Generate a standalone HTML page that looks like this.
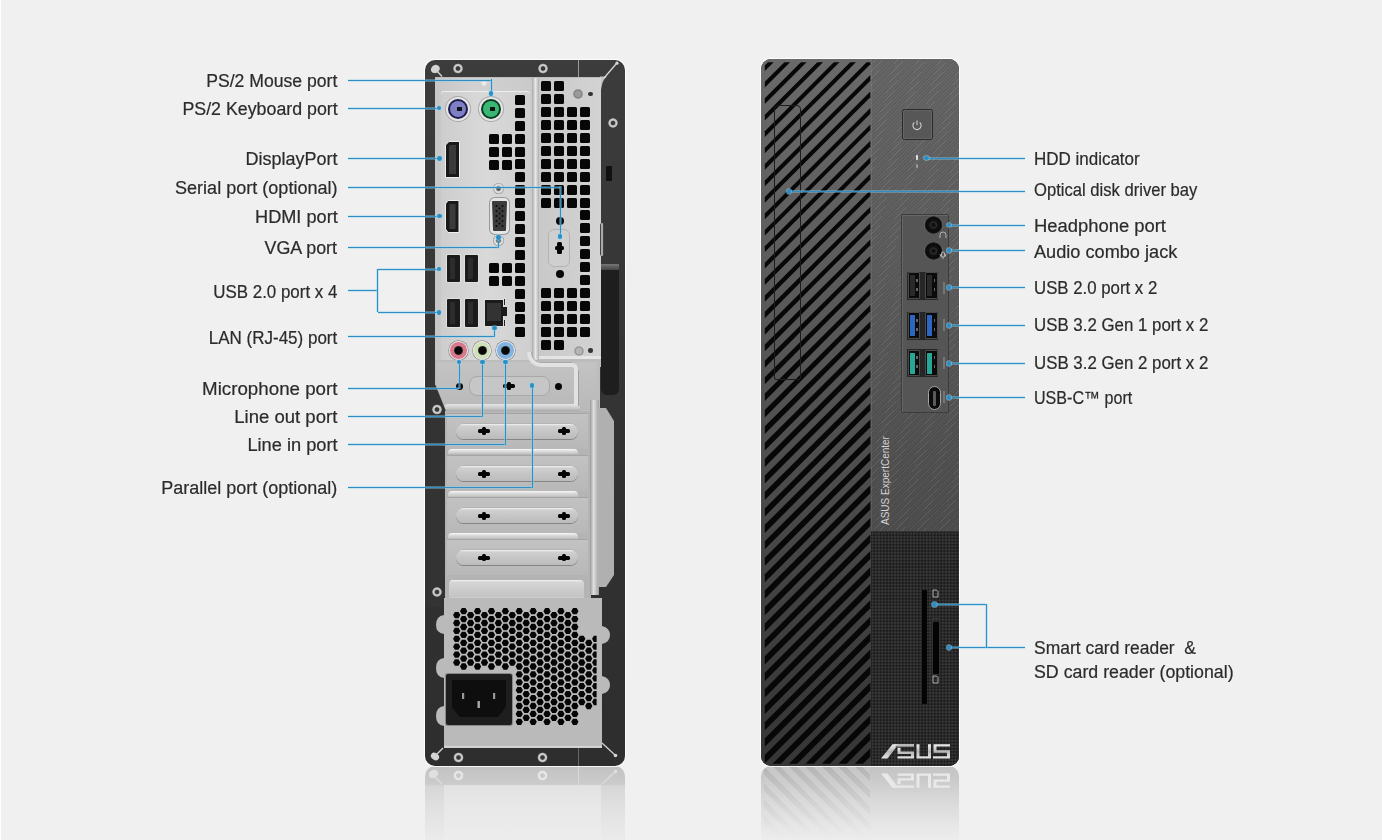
<!DOCTYPE html><html><head><meta charset="utf-8"><style>
*{margin:0;padding:0;box-sizing:border-box}
html,body{width:1382px;height:840px;overflow:hidden;background:#f0f0f0}
body{position:relative;font-family:"Liberation Sans",sans-serif}
div,span,svg{position:absolute}
.lbl{font-size:17.5px;color:#2b2b2b;white-space:pre;line-height:20px;height:20px;-webkit-text-stroke:0.2px #2b2b2b}
.sq{background:#070707;border-radius:1.5px}
.scr{border-radius:50%;background:radial-gradient(circle closest-side,#3a3a3a 0 1.9px,#9c9c9c 2.4px,#d4d4d4 3.2px,#bdbdbd 4.1px,#7a7a7a 4.8px,transparent 5.2px)}
.hl{background:#2f8fc4;height:1.3px;box-shadow:0 -1px 0 rgba(140,205,235,.4),0 1px 0 rgba(140,205,235,.4)}
.vl{background:#2f8fc4;width:1.3px;box-shadow:-1px 0 0 rgba(140,205,235,.4),1px 0 0 rgba(140,205,235,.4)}
.dot{width:4.8px;height:4.8px;border-radius:50%;background:#2b8fc6;box-shadow:0 0 0 0.8px rgba(150,215,240,.6)}
</style></head><body>
<div style="left:0;top:0;width:1px;height:840px;background:#fff"></div>
<div style="left:424.5px;top:766px;width:200px;height:74px;border-radius:10px 10px 0 0;overflow:hidden;background:linear-gradient(#c2c2c2,#cbcbcb 18px,#d6d6d6 20px,#e2e2e2 45px,#ebebeb 74px)"><div style="left:19.5px;top:19px;width:157px;height:55px;background:linear-gradient(#e2e2e2,#e8e8e8 40%,#ededed)"></div><div style="left:153.5px;top:0;width:1px;height:19px;background:#d8d8d8"></div></div>
<div style="left:453.3px;top:770.3px;width:10.4px;height:10.4px;border-radius:50%;background:radial-gradient(circle,#c8c8c8 0 2px,#e6e6e6 2.6px 4.4px,transparent 5.2px)"></div>
<div style="left:537.4px;top:770.3px;width:10.4px;height:10.4px;border-radius:50%;background:radial-gradient(circle,#c8c8c8 0 2px,#e6e6e6 2.6px 4.4px,transparent 5.2px)"></div>
<svg style="left:426px;top:766px" width="200" height="22"><path d="M9 11 L16 18" stroke="#dcdcdc" stroke-width="1.6"/><ellipse cx="7.5" cy="8" rx="5" ry="4" transform="rotate(-35 7.5 8)" fill="#e0e0e0"/><path d="M176 18 L189 6" stroke="#dcdcdc" stroke-width="1.3"/><circle cx="189.5" cy="5.5" r="1.8" fill="#e0e0e0"/></svg>
<div style="left:760.5px;top:766px;width:198.5px;height:74px;border-radius:10px 10px 0 0;overflow:hidden;background:linear-gradient(#c3c3c3,#cbcbcb 15px,#d9d9d9 35px,#e6e6e6 58px,#ededed 74px)"><div style="left:3.8px;top:0;width:105.5px;height:74px;background:repeating-linear-gradient(45deg,rgba(0,0,0,.07) 0 5.5px,rgba(255,255,255,.05) 5.5px 11.6px);-webkit-mask-image:linear-gradient(#000,rgba(0,0,0,.3) 70%,transparent);mask-image:linear-gradient(#000,rgba(0,0,0,.3) 70%,transparent)"></div></div>
<div style="left:424.5px;top:59.5px;width:200px;height:706.5px;background:linear-gradient(#3c3c3c,#353535 40%,#303030 75%,#2e2e2e);border-radius:10px;box-shadow:0 0 0 1px rgba(255,255,255,.85)"></div>
<div style="left:577.5px;top:59.5px;width:1.2px;height:17px;background:#9a9a9a"></div>
<div style="left:430.5px;top:64.5px;width:9px;height:8px;background:#c9c9c9;border-radius:50%;transform:rotate(-30deg)"></div>
<div style="left:435px;top:76.5px;width:166px;height:290px;background:#bdbdbd"></div>
<svg style="left:595px;top:60px" width="30" height="40"><path d="M5 16.5 L12 16.5 Q7 20 6 30 L5 30Z" fill="#c4c4c4"/><path d="M9 18 L21.5 3.5" stroke="#d5d5d5" stroke-width="1.3"/><circle cx="22" cy="3.2" r="1.6" fill="#d5d5d5"/></svg>
<div style="left:435px;top:77.5px;width:97px;height:287px;background:linear-gradient(90deg,#c6c6c6,#d2d2d2 40%,#cacaca);border-radius:3px"></div>
<div style="left:440.5px;top:90.5px;width:89px;height:273px;background:linear-gradient(90deg,#cdcdcd,#d9d9d9 50%,#cfcfcf);border-radius:3px;box-shadow:inset 0 1px 0 #eee"></div>
<div style="left:480px;top:81.2px;width:8px;height:5.5px;border-radius:50%;background:radial-gradient(ellipse at 50% 35%,#f4f4f4,#d8d8d8 60%,#aaa)"></div>
<div style="left:531.5px;top:77.5px;width:7px;height:285px;background:linear-gradient(90deg,#a9a9a9,#e8e8e8 50%,#b0b0b0)"></div>
<div style="left:538.5px;top:77.5px;width:62px;height:281px;background:linear-gradient(90deg,#c9c9c9,#d3d3d3);border-radius:0 0 6px 6px"></div>
<div style="left:538.5px;top:356px;width:62px;height:3px;background:#e4e4e4"></div>
<div class="sq" style="left:515px;top:94.8px;width:10px;height:10px;"></div>
<div class="sq" style="left:515px;top:107.7px;width:10px;height:10px;"></div>
<div class="sq" style="left:515px;top:120.6px;width:10px;height:10px;"></div>
<div class="sq" style="left:515px;top:133.6px;width:10px;height:10px;"></div>
<div class="sq" style="left:515px;top:146.5px;width:10px;height:10px;"></div>
<div class="sq" style="left:515px;top:159.4px;width:10px;height:10px;"></div>
<div class="sq" style="left:515px;top:172.3px;width:10px;height:10px;"></div>
<div class="sq" style="left:515px;top:185.2px;width:10px;height:10px;"></div>
<div class="sq" style="left:515px;top:198.2px;width:10px;height:10px;"></div>
<div class="sq" style="left:515px;top:211.1px;width:10px;height:10px;"></div>
<div class="sq" style="left:515px;top:224.0px;width:10px;height:10px;"></div>
<div class="sq" style="left:515px;top:236.9px;width:10px;height:10px;"></div>
<div class="sq" style="left:515px;top:249.8px;width:10px;height:10px;"></div>
<div class="sq" style="left:515px;top:262.8px;width:10px;height:10px;"></div>
<div class="sq" style="left:515px;top:275.7px;width:10px;height:10px;"></div>
<div class="sq" style="left:515px;top:288.6px;width:10px;height:10px;"></div>
<div class="sq" style="left:515px;top:301.5px;width:10px;height:10px;"></div>
<div class="sq" style="left:515px;top:314.4px;width:10px;height:10px;"></div>
<div class="sq" style="left:515px;top:327.4px;width:10px;height:10px;"></div>
<div class="sq" style="left:488.5px;top:134px;width:10px;height:10px;"></div>
<div class="sq" style="left:502px;top:134px;width:10px;height:10px;"></div>
<div class="sq" style="left:488.5px;top:147px;width:10px;height:10px;"></div>
<div class="sq" style="left:502px;top:147px;width:10px;height:10px;"></div>
<div class="sq" style="left:488.5px;top:160px;width:10px;height:10px;"></div>
<div class="sq" style="left:502px;top:160px;width:10px;height:10px;"></div>
<div class="sq" style="left:488.5px;top:263px;width:10px;height:10px;"></div>
<div class="sq" style="left:502px;top:263px;width:10px;height:10px;"></div>
<div class="sq" style="left:488.5px;top:276px;width:10px;height:10px;"></div>
<div class="sq" style="left:502px;top:276px;width:10px;height:10px;"></div>
<div class="sq" style="left:541px;top:81.2px;width:10px;height:10px;"></div>
<div class="sq" style="left:554.1px;top:81.2px;width:10px;height:10px;"></div>
<div class="sq" style="left:541px;top:94.1px;width:10px;height:10px;"></div>
<div class="sq" style="left:554.1px;top:94.1px;width:10px;height:10px;"></div>
<div class="sq" style="left:541px;top:107.0px;width:10px;height:10px;"></div>
<div class="sq" style="left:554.1px;top:107.0px;width:10px;height:10px;"></div>
<div class="sq" style="left:567.2px;top:107.0px;width:10px;height:10px;"></div>
<div class="sq" style="left:580.3px;top:107.0px;width:10px;height:10px;"></div>
<div class="sq" style="left:541px;top:120.0px;width:10px;height:10px;"></div>
<div class="sq" style="left:554.1px;top:120.0px;width:10px;height:10px;"></div>
<div class="sq" style="left:567.2px;top:120.0px;width:10px;height:10px;"></div>
<div class="sq" style="left:580.3px;top:120.0px;width:10px;height:10px;"></div>
<div class="sq" style="left:541px;top:132.9px;width:10px;height:10px;"></div>
<div class="sq" style="left:554.1px;top:132.9px;width:10px;height:10px;"></div>
<div class="sq" style="left:567.2px;top:132.9px;width:10px;height:10px;"></div>
<div class="sq" style="left:580.3px;top:132.9px;width:10px;height:10px;"></div>
<div class="sq" style="left:541px;top:145.8px;width:10px;height:10px;"></div>
<div class="sq" style="left:554.1px;top:145.8px;width:10px;height:10px;"></div>
<div class="sq" style="left:567.2px;top:145.8px;width:10px;height:10px;"></div>
<div class="sq" style="left:580.3px;top:145.8px;width:10px;height:10px;"></div>
<div class="sq" style="left:541px;top:158.7px;width:10px;height:10px;"></div>
<div class="sq" style="left:554.1px;top:158.7px;width:10px;height:10px;"></div>
<div class="sq" style="left:567.2px;top:158.7px;width:10px;height:10px;"></div>
<div class="sq" style="left:580.3px;top:158.7px;width:10px;height:10px;"></div>
<div class="sq" style="left:541px;top:171.6px;width:10px;height:10px;"></div>
<div class="sq" style="left:554.1px;top:171.6px;width:10px;height:10px;"></div>
<div class="sq" style="left:567.2px;top:171.6px;width:10px;height:10px;"></div>
<div class="sq" style="left:580.3px;top:171.6px;width:10px;height:10px;"></div>
<div class="sq" style="left:541px;top:184.6px;width:10px;height:10px;"></div>
<div class="sq" style="left:554.1px;top:184.6px;width:10px;height:10px;"></div>
<div class="sq" style="left:567.2px;top:184.6px;width:10px;height:10px;"></div>
<div class="sq" style="left:580.3px;top:184.6px;width:10px;height:10px;"></div>
<div class="sq" style="left:541px;top:197.5px;width:10px;height:10px;"></div>
<div class="sq" style="left:554.1px;top:197.5px;width:10px;height:10px;"></div>
<div class="sq" style="left:567.2px;top:197.5px;width:10px;height:10px;"></div>
<div class="sq" style="left:580.3px;top:197.5px;width:10px;height:10px;"></div>
<div class="sq" style="left:580.3px;top:210.4px;width:10px;height:10px;"></div>
<div class="sq" style="left:580.3px;top:223.3px;width:10px;height:10px;"></div>
<div class="sq" style="left:580.3px;top:236.2px;width:10px;height:10px;"></div>
<div class="sq" style="left:580.3px;top:249.2px;width:10px;height:10px;"></div>
<div class="sq" style="left:580.3px;top:262.1px;width:10px;height:10px;"></div>
<div class="sq" style="left:580.3px;top:275.0px;width:10px;height:10px;"></div>
<div class="sq" style="left:541px;top:287.9px;width:10px;height:10px;"></div>
<div class="sq" style="left:554.1px;top:287.9px;width:10px;height:10px;"></div>
<div class="sq" style="left:567.2px;top:287.9px;width:10px;height:10px;"></div>
<div class="sq" style="left:580.3px;top:287.9px;width:10px;height:10px;"></div>
<div class="sq" style="left:541px;top:300.8px;width:10px;height:10px;"></div>
<div class="sq" style="left:554.1px;top:300.8px;width:10px;height:10px;"></div>
<div class="sq" style="left:567.2px;top:300.8px;width:10px;height:10px;"></div>
<div class="sq" style="left:580.3px;top:300.8px;width:10px;height:10px;"></div>
<div class="sq" style="left:541px;top:313.8px;width:10px;height:10px;"></div>
<div class="sq" style="left:554.1px;top:313.8px;width:10px;height:10px;"></div>
<div class="sq" style="left:567.2px;top:313.8px;width:10px;height:10px;"></div>
<div class="sq" style="left:580.3px;top:313.8px;width:10px;height:10px;"></div>
<div class="sq" style="left:541px;top:326.7px;width:10px;height:10px;"></div>
<div class="sq" style="left:554.1px;top:326.7px;width:10px;height:10px;"></div>
<div class="sq" style="left:567.2px;top:326.7px;width:10px;height:10px;"></div>
<div class="sq" style="left:580.3px;top:326.7px;width:10px;height:10px;"></div>
<div class="sq" style="left:541px;top:339.6px;width:10px;height:10px;"></div>
<div class="sq" style="left:554.1px;top:339.6px;width:10px;height:10px;"></div>
<div style="left:572.5px;top:89px;width:10px;height:10px;border-radius:50%;background:radial-gradient(circle,#9a9a9a 0 3px,#7a7a7a 4px,#b0b0b0 5px)"></div>
<div style="left:588.3px;top:91.5px;width:4.5px;height:4.5px;border-radius:50%;background:#333"></div>
<div style="left:573.5px;top:345.5px;width:10px;height:10px;border-radius:50%;background:radial-gradient(circle,#b5b5b5 0 3px,#8a8a8a 4px,#c0c0c0 5px)"></div>
<div style="left:588.3px;top:348px;width:4.5px;height:4.5px;border-radius:50%;background:#333"></div>
<div style="left:555.5px;top:217.4px;width:8px;height:8px;border-radius:50%;background:#080808"></div>
<div style="left:548.3px;top:229.3px;width:21.7px;height:37.3px;border-radius:6px;border:1px solid #b3b3b3;background:#cfcfcf"></div>
<div style="left:555.5px;top:269.8px;width:8px;height:8px;border-radius:50%;background:#080808"></div>
<div style="left:557.3px;top:242.4px;width:4.4px;height:11.8px;background:#050505;border-radius:1.5px"></div>
<div style="left:554.8px;top:246.3px;width:9.4px;height:4px;background:#050505;border-radius:1.5px"></div>
<div style="left:446px;top:96.5px;width:24px;height:24px;border-radius:50%;background:#e6e6e6;box-shadow:0 0 0 1px #aaa"></div>
<div style="left:448px;top:98.5px;width:20px;height:20px;border-radius:50%;background:#1d1d4a"></div>
<div style="left:450px;top:100.5px;width:16px;height:16px;border-radius:50%;background:#7f7fc6"></div>
<div style="left:457px;top:106.5px;width:5px;height:4px;background:#111"></div>
<div style="left:479px;top:96.5px;width:24px;height:24px;border-radius:50%;background:#e6e6e6;box-shadow:0 0 0 1px #aaa"></div>
<div style="left:481px;top:98.5px;width:20px;height:20px;border-radius:50%;background:#0d3b22"></div>
<div style="left:483px;top:100.5px;width:16px;height:16px;border-radius:50%;background:#38b874"></div>
<div style="left:490px;top:106.5px;width:5px;height:4px;background:#111"></div>
<svg style="left:444.5px;top:140.5px" width="15" height="37"><path d="M4 0.5 H14.5 V36.5 H0.5 V4 Z" fill="#1a1a1a" stroke="#eee" stroke-width="1"/><path d="M5 4 H11 V33 H4 V6Z" fill="#3a3a3a"/></svg>
<svg style="left:445px;top:199.5px" width="15" height="33"><path d="M3 0.5 H14 V32.5 H3 L0.5 29 V4 Z" fill="#1a1a1a" stroke="#eee" stroke-width="1"/><path d="M4.5 4 H10.5 V29 H4.5Z" fill="#3b3b3b"/></svg>
<div style="left:489.5px;top:198px;width:19.5px;height:36px;border-radius:5px;background:#e4e4e4;box-shadow:0 0 0 1px #999"></div>
<svg style="left:491px;top:200px" width="17" height="32"><path d="M2 1 H15 Q16 1 16 2 L15 30 Q15 31 14 31 H3 Q2 31 2 30 L1 2 Q1 1 2 1Z" fill="#3c3c3c"/><circle cx="5.5" cy="6" r="1" fill="#0a0a0a"/><circle cx="11.5" cy="6" r="1" fill="#0a0a0a"/><circle cx="5.5" cy="11" r="1" fill="#0a0a0a"/><circle cx="11.5" cy="11" r="1" fill="#0a0a0a"/><circle cx="5.5" cy="16" r="1" fill="#0a0a0a"/><circle cx="11.5" cy="16" r="1" fill="#0a0a0a"/><circle cx="5.5" cy="21" r="1" fill="#0a0a0a"/><circle cx="11.5" cy="21" r="1" fill="#0a0a0a"/><circle cx="5.5" cy="26" r="1" fill="#0a0a0a"/><circle cx="11.5" cy="26" r="1" fill="#0a0a0a"/><circle cx="8.5" cy="8.5" r="1" fill="#0a0a0a"/><circle cx="8.5" cy="13.5" r="1" fill="#0a0a0a"/><circle cx="8.5" cy="18.5" r="1" fill="#0a0a0a"/><circle cx="8.5" cy="23.5" r="1" fill="#0a0a0a"/></svg>
<div style="left:493px;top:183.2px;width:11px;height:11px;border-radius:50%;background:radial-gradient(circle closest-side,#4a4a4a 0 1.8px,#a0a0a0 2.4px,#e8e8e8 3.4px,#d0d0d0 4.6px,#888 5.5px)"></div>
<div style="left:493px;top:234.8px;width:11px;height:11px;border-radius:50%;background:radial-gradient(circle closest-side,#4a4a4a 0 1.8px,#a0a0a0 2.4px,#e8e8e8 3.4px,#d0d0d0 4.6px,#888 5.5px)"></div>
<div style="left:446.5px;top:254.5px;width:13px;height:27.5px;background:#1b1b1b;border-radius:1px;box-shadow:0 0 0 1px #e0e0e0"></div>
<div style="left:449.5px;top:257.5px;width:5px;height:21.5px;background:#2c2c2c"></div>
<div style="left:465px;top:254.5px;width:13px;height:27.5px;background:#1b1b1b;border-radius:1px;box-shadow:0 0 0 1px #e0e0e0"></div>
<div style="left:468px;top:257.5px;width:5px;height:21.5px;background:#2c2c2c"></div>
<div style="left:446.5px;top:299px;width:13px;height:27.5px;background:#1b1b1b;border-radius:1px;box-shadow:0 0 0 1px #e0e0e0"></div>
<div style="left:449.5px;top:302px;width:5px;height:21.5px;background:#2c2c2c"></div>
<div style="left:465px;top:299px;width:13px;height:27.5px;background:#1b1b1b;border-radius:1px;box-shadow:0 0 0 1px #e0e0e0"></div>
<div style="left:468px;top:302px;width:5px;height:21.5px;background:#2c2c2c"></div>
<div style="left:484.5px;top:299.5px;width:18px;height:26.5px;background:#1b1b1b;box-shadow:0 0 0 1px #e0e0e0"></div>
<div style="left:486.5px;top:303px;width:14px;height:18px;background:#333;"></div>
<div style="left:502.5px;top:297.5px;width:3.5px;height:8px;background:#222;border:1px solid #ddd"></div>
<div style="left:502.5px;top:318.5px;width:3.5px;height:8px;background:#222;border:1px solid #ddd"></div>
<div style="left:501.5px;top:307px;width:5px;height:9px;background:#1b1b1b"></div>
<div style="left:449.3px;top:341px;width:18.6px;height:18.6px;border-radius:50%;background:#d7798b;border:1.2px solid #f2f2f2;box-shadow:0 0 0 0.7px #8a8a8a"></div>
<div style="left:454.0px;top:345.7px;width:9.2px;height:9.2px;border-radius:50%;background:radial-gradient(circle closest-side,#080808 0 3.4px,#3a3a3a 4.6px)"></div>
<div style="left:472.8px;top:341px;width:18.6px;height:18.6px;border-radius:50%;background:#cfe0b6;border:1.2px solid #f2f2f2;box-shadow:0 0 0 0.7px #8a8a8a"></div>
<div style="left:477.5px;top:345.7px;width:9.2px;height:9.2px;border-radius:50%;background:radial-gradient(circle closest-side,#080808 0 3.4px,#3a3a3a 4.6px)"></div>
<div style="left:496.0px;top:341px;width:18.6px;height:18.6px;border-radius:50%;background:#80b2e2;border:1.2px solid #f2f2f2;box-shadow:0 0 0 0.7px #8a8a8a"></div>
<div style="left:500.7px;top:345.7px;width:9.2px;height:9.2px;border-radius:50%;background:radial-gradient(circle closest-side,#080808 0 3.4px,#3a3a3a 4.6px)"></div>
<svg style="left:434px;top:360px" width="170" height="60"><path d="M1 0 H166 V60 H14 L10 52 L1 32Z" fill="#bcbcbc"/></svg>
<div style="left:437px;top:362px;width:160px;height:48px;background:linear-gradient(#c3c3c3,#b9b9b9)"></div>
<div style="left:468.5px;top:376px;width:81px;height:19.5px;border-radius:8px;border:1px solid #a8a8a8;background:#c6c6c6"></div>
<div style="left:455.5px;top:382.5px;width:7.5px;height:7.5px;border-radius:50%;background:#080808"></div>
<div style="left:502.6px;top:384.3px;width:12.6px;height:4px;background:#050505;border-radius:1.5px"></div>
<div style="left:506.7px;top:382.4px;width:4.4px;height:7.8px;background:#050505;border-radius:1.5px"></div>
<div style="left:554.5px;top:382.5px;width:7.5px;height:7.5px;border-radius:50%;background:#080808"></div>
<div style="left:444px;top:404px;width:136px;height:7.5px;background:linear-gradient(#e6e6e6,#c4c4c4 60%,#9c9c9c);border-radius:4px"></div>
<svg style="left:526px;top:352px" width="80" height="60"><path d="M3 0 Q4 12 16 13 H46 Q50 13 50 18 V54" fill="none" stroke="#e2e2e2" stroke-width="4"/><path d="M5.5 0 Q6 10 16 10.5 H46" fill="none" stroke="#a8a8a8" stroke-width="1"/><path d="M52.5 18 V54" stroke="#a0a0a0" stroke-width="1"/></svg>
<svg style="left:424.5px;top:385px" width="24" height="222"><path d="M0 0 H10.5 L20.5 25 V222 H0Z" fill="#333"/></svg>
<div style="left:445px;top:411px;width:146px;height:190px;background:#b4b4b4"></div>
<div style="left:446.5px;top:412.8px;width:141px;height:36px;background:linear-gradient(#c2c2c2,#b8b8b8);border-top:1px solid #a5a5a5"></div>
<div style="left:456px;top:423.8px;width:122px;height:15px;border-radius:8px;background:linear-gradient(#f2f2f2,#d0d0d0 2px,#c6c6c6 50%,#bcbcbc);box-shadow:0 1px 0 #858585,0 -0.5px 0 #aaa"></div>
<div style="left:477.7px;top:429.3px;width:12.6px;height:4px;background:#050505;border-radius:1.5px"></div>
<div style="left:481.8px;top:427.40000000000003px;width:4.4px;height:7.8px;background:#050505;border-radius:1.5px"></div>
<div style="left:557.7px;top:429.3px;width:12.6px;height:4px;background:#050505;border-radius:1.5px"></div>
<div style="left:561.8px;top:427.40000000000003px;width:4.4px;height:7.8px;background:#050505;border-radius:1.5px"></div>
<div style="left:447.5px;top:448.8px;width:130px;height:8.5px;border-radius:4px;background:linear-gradient(#fafafa,#dedede 2px,#c8c8c8 55%,#a0a0a0 85%,#8a8a8a)"></div>
<div style="left:446.5px;top:455.3px;width:141px;height:36px;background:linear-gradient(#c2c2c2,#b8b8b8);border-top:1px solid #a5a5a5"></div>
<div style="left:456px;top:466.3px;width:122px;height:15px;border-radius:8px;background:linear-gradient(#f2f2f2,#d0d0d0 2px,#c6c6c6 50%,#bcbcbc);box-shadow:0 1px 0 #858585,0 -0.5px 0 #aaa"></div>
<div style="left:477.7px;top:471.8px;width:12.6px;height:4px;background:#050505;border-radius:1.5px"></div>
<div style="left:481.8px;top:469.90000000000003px;width:4.4px;height:7.8px;background:#050505;border-radius:1.5px"></div>
<div style="left:557.7px;top:471.8px;width:12.6px;height:4px;background:#050505;border-radius:1.5px"></div>
<div style="left:561.8px;top:469.90000000000003px;width:4.4px;height:7.8px;background:#050505;border-radius:1.5px"></div>
<div style="left:447.5px;top:491.3px;width:130px;height:8.5px;border-radius:4px;background:linear-gradient(#fafafa,#dedede 2px,#c8c8c8 55%,#a0a0a0 85%,#8a8a8a)"></div>
<div style="left:446.5px;top:497.29999999999995px;width:141px;height:36px;background:linear-gradient(#c2c2c2,#b8b8b8);border-top:1px solid #a5a5a5"></div>
<div style="left:456px;top:508.29999999999995px;width:122px;height:15px;border-radius:8px;background:linear-gradient(#f2f2f2,#d0d0d0 2px,#c6c6c6 50%,#bcbcbc);box-shadow:0 1px 0 #858585,0 -0.5px 0 #aaa"></div>
<div style="left:477.7px;top:513.8px;width:12.6px;height:4px;background:#050505;border-radius:1.5px"></div>
<div style="left:481.8px;top:511.9px;width:4.4px;height:7.8px;background:#050505;border-radius:1.5px"></div>
<div style="left:557.7px;top:513.8px;width:12.6px;height:4px;background:#050505;border-radius:1.5px"></div>
<div style="left:561.8px;top:511.9px;width:4.4px;height:7.8px;background:#050505;border-radius:1.5px"></div>
<div style="left:447.5px;top:533.3px;width:130px;height:8.5px;border-radius:4px;background:linear-gradient(#fafafa,#dedede 2px,#c8c8c8 55%,#a0a0a0 85%,#8a8a8a)"></div>
<div style="left:446.5px;top:539.0px;width:141px;height:36px;background:linear-gradient(#c2c2c2,#b8b8b8);border-top:1px solid #a5a5a5"></div>
<div style="left:456px;top:550.0px;width:122px;height:15px;border-radius:8px;background:linear-gradient(#f2f2f2,#d0d0d0 2px,#c6c6c6 50%,#bcbcbc);box-shadow:0 1px 0 #858585,0 -0.5px 0 #aaa"></div>
<div style="left:477.7px;top:555.5px;width:12.6px;height:4px;background:#050505;border-radius:1.5px"></div>
<div style="left:481.8px;top:553.6px;width:4.4px;height:7.8px;background:#050505;border-radius:1.5px"></div>
<div style="left:557.7px;top:555.5px;width:12.6px;height:4px;background:#050505;border-radius:1.5px"></div>
<div style="left:561.8px;top:553.6px;width:4.4px;height:7.8px;background:#050505;border-radius:1.5px"></div>
<div style="left:448.8px;top:580px;width:135px;height:20px;border-radius:4px;background:linear-gradient(#f4f4f4,#d6d6d6 2px,#cbcbcb 50%,#c4c4c4 85%,#eeeeee)"></div>
<div style="left:590px;top:400px;width:8.6px;height:195px;background:linear-gradient(90deg,#999,#e0e0e0 40%,#a0a0a0)"></div>
<svg style="left:598px;top:405px" width="17" height="185"><path d="M0 3 L8 3 L16 16 V170 L8 182 H0Z" fill="#b0b0b0"/></svg>
<div style="left:601.4px;top:263.8px;width:17.5px;height:131px;background:#1e1e1e;border-radius:2px 2px 6px 6px"></div>
<div style="left:601.4px;top:263.8px;width:17.5px;height:6px;background:linear-gradient(#777,#444)"></div>
<div style="left:606px;top:165.7px;width:6px;height:15.3px;background:#111;border-radius:1px"></div>
<div style="left:599.5px;top:223px;width:4.8px;height:33px;background:linear-gradient(90deg,#111,#ddd,#111);border-radius:2px"></div>
<svg style="left:434px;top:598px" width="176" height="152"><path d="M10 0 H168 V28 Q176 30 176 37 Q176 44 168 46 V78 Q176 80 176 87 Q176 94 168 96 V150 H10 V128 Q2 127 2 118 Q2 109 10 108 V80 Q2 79 2 70 Q2 61 10 60 V36 Q2 35 2 27 Q2 18 10 17Z" fill="#bababa"/></svg>
<svg style="left:434px;top:598px" width="176" height="152"><defs><clipPath id="hc"><rect x="0" y="0" width="162.6" height="152"/></clipPath></defs><path clip-path="url(#hc)" fill="#050505" d="M19.05 17.10 L20.88 13.95 L24.52 13.95 L26.35 17.10 L24.52 20.25 L20.88 20.25ZM19.05 25.00 L20.88 21.85 L24.52 21.85 L26.35 25.00 L24.52 28.15 L20.88 28.15ZM19.05 32.90 L20.88 29.75 L24.52 29.75 L26.35 32.90 L24.52 36.05 L20.88 36.05ZM19.05 40.80 L20.88 37.65 L24.52 37.65 L26.35 40.80 L24.52 43.95 L20.88 43.95ZM19.05 48.70 L20.88 45.55 L24.52 45.55 L26.35 48.70 L24.52 51.85 L20.88 51.85ZM19.05 56.60 L20.88 53.45 L24.52 53.45 L26.35 56.60 L24.52 59.75 L20.88 59.75ZM19.05 64.50 L20.88 61.35 L24.52 61.35 L26.35 64.50 L24.52 67.65 L20.88 67.65ZM26.00 13.20 L27.82 10.05 L31.47 10.05 L33.30 13.20 L31.47 16.35 L27.82 16.35ZM26.00 21.10 L27.82 17.95 L31.47 17.95 L33.30 21.10 L31.47 24.25 L27.82 24.25ZM26.00 29.00 L27.82 25.85 L31.47 25.85 L33.30 29.00 L31.47 32.15 L27.82 32.15ZM26.00 36.90 L27.82 33.75 L31.47 33.75 L33.30 36.90 L31.47 40.05 L27.82 40.05ZM26.00 44.80 L27.82 41.65 L31.47 41.65 L33.30 44.80 L31.47 47.95 L27.82 47.95ZM26.00 52.70 L27.82 49.55 L31.47 49.55 L33.30 52.70 L31.47 55.85 L27.82 55.85ZM26.00 60.60 L27.82 57.45 L31.47 57.45 L33.30 60.60 L31.47 63.75 L27.82 63.75ZM26.00 68.50 L27.82 65.35 L31.47 65.35 L33.30 68.50 L31.47 71.65 L27.82 71.65ZM32.95 17.10 L34.77 13.95 L38.42 13.95 L40.25 17.10 L38.42 20.25 L34.77 20.25ZM32.95 25.00 L34.77 21.85 L38.42 21.85 L40.25 25.00 L38.42 28.15 L34.77 28.15ZM32.95 32.90 L34.77 29.75 L38.42 29.75 L40.25 32.90 L38.42 36.05 L34.77 36.05ZM32.95 40.80 L34.77 37.65 L38.42 37.65 L40.25 40.80 L38.42 43.95 L34.77 43.95ZM32.95 48.70 L34.77 45.55 L38.42 45.55 L40.25 48.70 L38.42 51.85 L34.77 51.85ZM32.95 56.60 L34.77 53.45 L38.42 53.45 L40.25 56.60 L38.42 59.75 L34.77 59.75ZM32.95 64.50 L34.77 61.35 L38.42 61.35 L40.25 64.50 L38.42 67.65 L34.77 67.65ZM39.90 13.20 L41.73 10.05 L45.38 10.05 L47.20 13.20 L45.38 16.35 L41.73 16.35ZM39.90 21.10 L41.73 17.95 L45.38 17.95 L47.20 21.10 L45.38 24.25 L41.73 24.25ZM39.90 29.00 L41.73 25.85 L45.38 25.85 L47.20 29.00 L45.38 32.15 L41.73 32.15ZM39.90 36.90 L41.73 33.75 L45.38 33.75 L47.20 36.90 L45.38 40.05 L41.73 40.05ZM39.90 44.80 L41.73 41.65 L45.38 41.65 L47.20 44.80 L45.38 47.95 L41.73 47.95ZM39.90 52.70 L41.73 49.55 L45.38 49.55 L47.20 52.70 L45.38 55.85 L41.73 55.85ZM39.90 60.60 L41.73 57.45 L45.38 57.45 L47.20 60.60 L45.38 63.75 L41.73 63.75ZM39.90 68.50 L41.73 65.35 L45.38 65.35 L47.20 68.50 L45.38 71.65 L41.73 71.65ZM46.85 17.10 L48.68 13.95 L52.32 13.95 L54.15 17.10 L52.32 20.25 L48.68 20.25ZM46.85 25.00 L48.68 21.85 L52.32 21.85 L54.15 25.00 L52.32 28.15 L48.68 28.15ZM46.85 32.90 L48.68 29.75 L52.32 29.75 L54.15 32.90 L52.32 36.05 L48.68 36.05ZM46.85 40.80 L48.68 37.65 L52.32 37.65 L54.15 40.80 L52.32 43.95 L48.68 43.95ZM46.85 48.70 L48.68 45.55 L52.32 45.55 L54.15 48.70 L52.32 51.85 L48.68 51.85ZM46.85 56.60 L48.68 53.45 L52.32 53.45 L54.15 56.60 L52.32 59.75 L48.68 59.75ZM46.85 64.50 L48.68 61.35 L52.32 61.35 L54.15 64.50 L52.32 67.65 L48.68 67.65ZM53.80 13.20 L55.62 10.05 L59.27 10.05 L61.10 13.20 L59.27 16.35 L55.62 16.35ZM53.80 21.10 L55.62 17.95 L59.27 17.95 L61.10 21.10 L59.27 24.25 L55.62 24.25ZM53.80 29.00 L55.62 25.85 L59.27 25.85 L61.10 29.00 L59.27 32.15 L55.62 32.15ZM53.80 36.90 L55.62 33.75 L59.27 33.75 L61.10 36.90 L59.27 40.05 L55.62 40.05ZM53.80 44.80 L55.62 41.65 L59.27 41.65 L61.10 44.80 L59.27 47.95 L55.62 47.95ZM53.80 52.70 L55.62 49.55 L59.27 49.55 L61.10 52.70 L59.27 55.85 L55.62 55.85ZM53.80 60.60 L55.62 57.45 L59.27 57.45 L61.10 60.60 L59.27 63.75 L55.62 63.75ZM53.80 68.50 L55.62 65.35 L59.27 65.35 L61.10 68.50 L59.27 71.65 L55.62 71.65ZM60.75 17.10 L62.57 13.95 L66.22 13.95 L68.05 17.10 L66.22 20.25 L62.57 20.25ZM60.75 25.00 L62.57 21.85 L66.22 21.85 L68.05 25.00 L66.22 28.15 L62.57 28.15ZM60.75 32.90 L62.57 29.75 L66.22 29.75 L68.05 32.90 L66.22 36.05 L62.57 36.05ZM60.75 40.80 L62.57 37.65 L66.22 37.65 L68.05 40.80 L66.22 43.95 L62.57 43.95ZM60.75 48.70 L62.57 45.55 L66.22 45.55 L68.05 48.70 L66.22 51.85 L62.57 51.85ZM60.75 56.60 L62.57 53.45 L66.22 53.45 L68.05 56.60 L66.22 59.75 L62.57 59.75ZM60.75 64.50 L62.57 61.35 L66.22 61.35 L68.05 64.50 L66.22 67.65 L62.57 67.65ZM67.70 13.20 L69.52 10.05 L73.17 10.05 L75.00 13.20 L73.17 16.35 L69.52 16.35ZM67.70 21.10 L69.52 17.95 L73.17 17.95 L75.00 21.10 L73.17 24.25 L69.52 24.25ZM67.70 29.00 L69.52 25.85 L73.17 25.85 L75.00 29.00 L73.17 32.15 L69.52 32.15ZM67.70 36.90 L69.52 33.75 L73.17 33.75 L75.00 36.90 L73.17 40.05 L69.52 40.05ZM67.70 44.80 L69.52 41.65 L73.17 41.65 L75.00 44.80 L73.17 47.95 L69.52 47.95ZM67.70 52.70 L69.52 49.55 L73.17 49.55 L75.00 52.70 L73.17 55.85 L69.52 55.85ZM67.70 60.60 L69.52 57.45 L73.17 57.45 L75.00 60.60 L73.17 63.75 L69.52 63.75ZM67.70 68.50 L69.52 65.35 L73.17 65.35 L75.00 68.50 L73.17 71.65 L69.52 71.65ZM74.65 17.10 L76.47 13.95 L80.12 13.95 L81.95 17.10 L80.12 20.25 L76.47 20.25ZM74.65 25.00 L76.47 21.85 L80.12 21.85 L81.95 25.00 L80.12 28.15 L76.47 28.15ZM74.65 32.90 L76.47 29.75 L80.12 29.75 L81.95 32.90 L80.12 36.05 L76.47 36.05ZM74.65 40.80 L76.47 37.65 L80.12 37.65 L81.95 40.80 L80.12 43.95 L76.47 43.95ZM74.65 48.70 L76.47 45.55 L80.12 45.55 L81.95 48.70 L80.12 51.85 L76.47 51.85ZM74.65 56.60 L76.47 53.45 L80.12 53.45 L81.95 56.60 L80.12 59.75 L76.47 59.75ZM74.65 64.50 L76.47 61.35 L80.12 61.35 L81.95 64.50 L80.12 67.65 L76.47 67.65ZM81.60 13.20 L83.42 10.05 L87.08 10.05 L88.90 13.20 L87.08 16.35 L83.42 16.35ZM81.60 21.10 L83.42 17.95 L87.08 17.95 L88.90 21.10 L87.08 24.25 L83.42 24.25ZM81.60 29.00 L83.42 25.85 L87.08 25.85 L88.90 29.00 L87.08 32.15 L83.42 32.15ZM81.60 36.90 L83.42 33.75 L87.08 33.75 L88.90 36.90 L87.08 40.05 L83.42 40.05ZM81.60 44.80 L83.42 41.65 L87.08 41.65 L88.90 44.80 L87.08 47.95 L83.42 47.95ZM81.60 52.70 L83.42 49.55 L87.08 49.55 L88.90 52.70 L87.08 55.85 L83.42 55.85ZM81.60 60.60 L83.42 57.45 L87.08 57.45 L88.90 60.60 L87.08 63.75 L83.42 63.75ZM81.60 68.50 L83.42 65.35 L87.08 65.35 L88.90 68.50 L87.08 71.65 L83.42 71.65ZM81.60 76.40 L83.42 73.25 L87.08 73.25 L88.90 76.40 L87.08 79.55 L83.42 79.55ZM81.60 84.30 L83.42 81.15 L87.08 81.15 L88.90 84.30 L87.08 87.45 L83.42 87.45ZM81.60 92.20 L83.42 89.05 L87.08 89.05 L88.90 92.20 L87.08 95.35 L83.42 95.35ZM81.60 100.10 L83.42 96.95 L87.08 96.95 L88.90 100.10 L87.08 103.25 L83.42 103.25ZM81.60 108.00 L83.42 104.85 L87.08 104.85 L88.90 108.00 L87.08 111.15 L83.42 111.15ZM81.60 115.90 L83.42 112.75 L87.08 112.75 L88.90 115.90 L87.08 119.05 L83.42 119.05ZM81.60 123.80 L83.42 120.65 L87.08 120.65 L88.90 123.80 L87.08 126.95 L83.42 126.95ZM88.55 17.10 L90.38 13.95 L94.03 13.95 L95.85 17.10 L94.03 20.25 L90.38 20.25ZM88.55 25.00 L90.38 21.85 L94.03 21.85 L95.85 25.00 L94.03 28.15 L90.38 28.15ZM88.55 32.90 L90.38 29.75 L94.03 29.75 L95.85 32.90 L94.03 36.05 L90.38 36.05ZM88.55 40.80 L90.38 37.65 L94.03 37.65 L95.85 40.80 L94.03 43.95 L90.38 43.95ZM88.55 48.70 L90.38 45.55 L94.03 45.55 L95.85 48.70 L94.03 51.85 L90.38 51.85ZM88.55 56.60 L90.38 53.45 L94.03 53.45 L95.85 56.60 L94.03 59.75 L90.38 59.75ZM88.55 64.50 L90.38 61.35 L94.03 61.35 L95.85 64.50 L94.03 67.65 L90.38 67.65ZM88.55 72.40 L90.38 69.25 L94.03 69.25 L95.85 72.40 L94.03 75.55 L90.38 75.55ZM88.55 80.30 L90.38 77.15 L94.03 77.15 L95.85 80.30 L94.03 83.45 L90.38 83.45ZM88.55 88.20 L90.38 85.05 L94.03 85.05 L95.85 88.20 L94.03 91.35 L90.38 91.35ZM88.55 96.10 L90.38 92.95 L94.03 92.95 L95.85 96.10 L94.03 99.25 L90.38 99.25ZM88.55 104.00 L90.38 100.85 L94.03 100.85 L95.85 104.00 L94.03 107.15 L90.38 107.15ZM88.55 111.90 L90.38 108.75 L94.03 108.75 L95.85 111.90 L94.03 115.05 L90.38 115.05ZM88.55 119.80 L90.38 116.65 L94.03 116.65 L95.85 119.80 L94.03 122.95 L90.38 122.95ZM95.50 13.20 L97.32 10.05 L100.98 10.05 L102.80 13.20 L100.98 16.35 L97.32 16.35ZM95.50 21.10 L97.32 17.95 L100.98 17.95 L102.80 21.10 L100.98 24.25 L97.32 24.25ZM95.50 29.00 L97.32 25.85 L100.98 25.85 L102.80 29.00 L100.98 32.15 L97.32 32.15ZM95.50 36.90 L97.32 33.75 L100.98 33.75 L102.80 36.90 L100.98 40.05 L97.32 40.05ZM95.50 44.80 L97.32 41.65 L100.98 41.65 L102.80 44.80 L100.98 47.95 L97.32 47.95ZM95.50 52.70 L97.32 49.55 L100.98 49.55 L102.80 52.70 L100.98 55.85 L97.32 55.85ZM95.50 60.60 L97.32 57.45 L100.98 57.45 L102.80 60.60 L100.98 63.75 L97.32 63.75ZM95.50 68.50 L97.32 65.35 L100.98 65.35 L102.80 68.50 L100.98 71.65 L97.32 71.65ZM95.50 76.40 L97.32 73.25 L100.98 73.25 L102.80 76.40 L100.98 79.55 L97.32 79.55ZM95.50 84.30 L97.32 81.15 L100.98 81.15 L102.80 84.30 L100.98 87.45 L97.32 87.45ZM95.50 92.20 L97.32 89.05 L100.98 89.05 L102.80 92.20 L100.98 95.35 L97.32 95.35ZM95.50 100.10 L97.32 96.95 L100.98 96.95 L102.80 100.10 L100.98 103.25 L97.32 103.25ZM95.50 108.00 L97.32 104.85 L100.98 104.85 L102.80 108.00 L100.98 111.15 L97.32 111.15ZM95.50 115.90 L97.32 112.75 L100.98 112.75 L102.80 115.90 L100.98 119.05 L97.32 119.05ZM95.50 123.80 L97.32 120.65 L100.98 120.65 L102.80 123.80 L100.98 126.95 L97.32 126.95ZM102.45 17.10 L104.27 13.95 L107.93 13.95 L109.75 17.10 L107.93 20.25 L104.27 20.25ZM102.45 25.00 L104.27 21.85 L107.93 21.85 L109.75 25.00 L107.93 28.15 L104.27 28.15ZM102.45 32.90 L104.27 29.75 L107.93 29.75 L109.75 32.90 L107.93 36.05 L104.27 36.05ZM102.45 40.80 L104.27 37.65 L107.93 37.65 L109.75 40.80 L107.93 43.95 L104.27 43.95ZM102.45 48.70 L104.27 45.55 L107.93 45.55 L109.75 48.70 L107.93 51.85 L104.27 51.85ZM102.45 56.60 L104.27 53.45 L107.93 53.45 L109.75 56.60 L107.93 59.75 L104.27 59.75ZM102.45 64.50 L104.27 61.35 L107.93 61.35 L109.75 64.50 L107.93 67.65 L104.27 67.65ZM102.45 72.40 L104.27 69.25 L107.93 69.25 L109.75 72.40 L107.93 75.55 L104.27 75.55ZM102.45 80.30 L104.27 77.15 L107.93 77.15 L109.75 80.30 L107.93 83.45 L104.27 83.45ZM102.45 88.20 L104.27 85.05 L107.93 85.05 L109.75 88.20 L107.93 91.35 L104.27 91.35ZM102.45 96.10 L104.27 92.95 L107.93 92.95 L109.75 96.10 L107.93 99.25 L104.27 99.25ZM102.45 104.00 L104.27 100.85 L107.93 100.85 L109.75 104.00 L107.93 107.15 L104.27 107.15ZM102.45 111.90 L104.27 108.75 L107.93 108.75 L109.75 111.90 L107.93 115.05 L104.27 115.05ZM102.45 119.80 L104.27 116.65 L107.93 116.65 L109.75 119.80 L107.93 122.95 L104.27 122.95ZM109.40 13.20 L111.22 10.05 L114.88 10.05 L116.70 13.20 L114.88 16.35 L111.22 16.35ZM109.40 21.10 L111.22 17.95 L114.88 17.95 L116.70 21.10 L114.88 24.25 L111.22 24.25ZM109.40 29.00 L111.22 25.85 L114.88 25.85 L116.70 29.00 L114.88 32.15 L111.22 32.15ZM109.40 36.90 L111.22 33.75 L114.88 33.75 L116.70 36.90 L114.88 40.05 L111.22 40.05ZM109.40 44.80 L111.22 41.65 L114.88 41.65 L116.70 44.80 L114.88 47.95 L111.22 47.95ZM109.40 52.70 L111.22 49.55 L114.88 49.55 L116.70 52.70 L114.88 55.85 L111.22 55.85ZM109.40 60.60 L111.22 57.45 L114.88 57.45 L116.70 60.60 L114.88 63.75 L111.22 63.75ZM109.40 68.50 L111.22 65.35 L114.88 65.35 L116.70 68.50 L114.88 71.65 L111.22 71.65ZM109.40 76.40 L111.22 73.25 L114.88 73.25 L116.70 76.40 L114.88 79.55 L111.22 79.55ZM109.40 84.30 L111.22 81.15 L114.88 81.15 L116.70 84.30 L114.88 87.45 L111.22 87.45ZM109.40 92.20 L111.22 89.05 L114.88 89.05 L116.70 92.20 L114.88 95.35 L111.22 95.35ZM109.40 100.10 L111.22 96.95 L114.88 96.95 L116.70 100.10 L114.88 103.25 L111.22 103.25ZM109.40 108.00 L111.22 104.85 L114.88 104.85 L116.70 108.00 L114.88 111.15 L111.22 111.15ZM109.40 115.90 L111.22 112.75 L114.88 112.75 L116.70 115.90 L114.88 119.05 L111.22 119.05ZM109.40 123.80 L111.22 120.65 L114.88 120.65 L116.70 123.80 L114.88 126.95 L111.22 126.95ZM116.35 17.10 L118.17 13.95 L121.83 13.95 L123.65 17.10 L121.83 20.25 L118.17 20.25ZM116.35 25.00 L118.17 21.85 L121.83 21.85 L123.65 25.00 L121.83 28.15 L118.17 28.15ZM116.35 32.90 L118.17 29.75 L121.83 29.75 L123.65 32.90 L121.83 36.05 L118.17 36.05ZM116.35 40.80 L118.17 37.65 L121.83 37.65 L123.65 40.80 L121.83 43.95 L118.17 43.95ZM116.35 48.70 L118.17 45.55 L121.83 45.55 L123.65 48.70 L121.83 51.85 L118.17 51.85ZM116.35 56.60 L118.17 53.45 L121.83 53.45 L123.65 56.60 L121.83 59.75 L118.17 59.75ZM116.35 64.50 L118.17 61.35 L121.83 61.35 L123.65 64.50 L121.83 67.65 L118.17 67.65ZM116.35 72.40 L118.17 69.25 L121.83 69.25 L123.65 72.40 L121.83 75.55 L118.17 75.55ZM116.35 80.30 L118.17 77.15 L121.83 77.15 L123.65 80.30 L121.83 83.45 L118.17 83.45ZM116.35 88.20 L118.17 85.05 L121.83 85.05 L123.65 88.20 L121.83 91.35 L118.17 91.35ZM116.35 96.10 L118.17 92.95 L121.83 92.95 L123.65 96.10 L121.83 99.25 L118.17 99.25ZM116.35 104.00 L118.17 100.85 L121.83 100.85 L123.65 104.00 L121.83 107.15 L118.17 107.15ZM116.35 111.90 L118.17 108.75 L121.83 108.75 L123.65 111.90 L121.83 115.05 L118.17 115.05ZM116.35 119.80 L118.17 116.65 L121.83 116.65 L123.65 119.80 L121.83 122.95 L118.17 122.95ZM123.30 13.20 L125.12 10.05 L128.78 10.05 L130.60 13.20 L128.78 16.35 L125.12 16.35ZM123.30 21.10 L125.12 17.95 L128.78 17.95 L130.60 21.10 L128.78 24.25 L125.12 24.25ZM123.30 29.00 L125.12 25.85 L128.78 25.85 L130.60 29.00 L128.78 32.15 L125.12 32.15ZM123.30 36.90 L125.12 33.75 L128.78 33.75 L130.60 36.90 L128.78 40.05 L125.12 40.05ZM123.30 44.80 L125.12 41.65 L128.78 41.65 L130.60 44.80 L128.78 47.95 L125.12 47.95ZM123.30 52.70 L125.12 49.55 L128.78 49.55 L130.60 52.70 L128.78 55.85 L125.12 55.85ZM123.30 60.60 L125.12 57.45 L128.78 57.45 L130.60 60.60 L128.78 63.75 L125.12 63.75ZM123.30 68.50 L125.12 65.35 L128.78 65.35 L130.60 68.50 L128.78 71.65 L125.12 71.65ZM123.30 76.40 L125.12 73.25 L128.78 73.25 L130.60 76.40 L128.78 79.55 L125.12 79.55ZM123.30 84.30 L125.12 81.15 L128.78 81.15 L130.60 84.30 L128.78 87.45 L125.12 87.45ZM123.30 92.20 L125.12 89.05 L128.78 89.05 L130.60 92.20 L128.78 95.35 L125.12 95.35ZM123.30 100.10 L125.12 96.95 L128.78 96.95 L130.60 100.10 L128.78 103.25 L125.12 103.25ZM123.30 108.00 L125.12 104.85 L128.78 104.85 L130.60 108.00 L128.78 111.15 L125.12 111.15ZM123.30 115.90 L125.12 112.75 L128.78 112.75 L130.60 115.90 L128.78 119.05 L125.12 119.05ZM123.30 123.80 L125.12 120.65 L128.78 120.65 L130.60 123.80 L128.78 126.95 L125.12 126.95ZM130.25 17.10 L132.07 13.95 L135.73 13.95 L137.55 17.10 L135.73 20.25 L132.07 20.25ZM130.25 25.00 L132.07 21.85 L135.73 21.85 L137.55 25.00 L135.73 28.15 L132.07 28.15ZM130.25 32.90 L132.07 29.75 L135.73 29.75 L137.55 32.90 L135.73 36.05 L132.07 36.05ZM130.25 40.80 L132.07 37.65 L135.73 37.65 L137.55 40.80 L135.73 43.95 L132.07 43.95ZM130.25 48.70 L132.07 45.55 L135.73 45.55 L137.55 48.70 L135.73 51.85 L132.07 51.85ZM130.25 56.60 L132.07 53.45 L135.73 53.45 L137.55 56.60 L135.73 59.75 L132.07 59.75ZM130.25 64.50 L132.07 61.35 L135.73 61.35 L137.55 64.50 L135.73 67.65 L132.07 67.65ZM130.25 72.40 L132.07 69.25 L135.73 69.25 L137.55 72.40 L135.73 75.55 L132.07 75.55ZM130.25 80.30 L132.07 77.15 L135.73 77.15 L137.55 80.30 L135.73 83.45 L132.07 83.45ZM130.25 88.20 L132.07 85.05 L135.73 85.05 L137.55 88.20 L135.73 91.35 L132.07 91.35ZM130.25 96.10 L132.07 92.95 L135.73 92.95 L137.55 96.10 L135.73 99.25 L132.07 99.25ZM130.25 104.00 L132.07 100.85 L135.73 100.85 L137.55 104.00 L135.73 107.15 L132.07 107.15ZM130.25 111.90 L132.07 108.75 L135.73 108.75 L137.55 111.90 L135.73 115.05 L132.07 115.05ZM130.25 119.80 L132.07 116.65 L135.73 116.65 L137.55 119.80 L135.73 122.95 L132.07 122.95ZM137.20 13.20 L139.02 10.05 L142.68 10.05 L144.50 13.20 L142.68 16.35 L139.02 16.35ZM137.20 21.10 L139.02 17.95 L142.68 17.95 L144.50 21.10 L142.68 24.25 L139.02 24.25ZM137.20 29.00 L139.02 25.85 L142.68 25.85 L144.50 29.00 L142.68 32.15 L139.02 32.15ZM137.20 36.90 L139.02 33.75 L142.68 33.75 L144.50 36.90 L142.68 40.05 L139.02 40.05ZM137.20 44.80 L139.02 41.65 L142.68 41.65 L144.50 44.80 L142.68 47.95 L139.02 47.95ZM137.20 52.70 L139.02 49.55 L142.68 49.55 L144.50 52.70 L142.68 55.85 L139.02 55.85ZM137.20 60.60 L139.02 57.45 L142.68 57.45 L144.50 60.60 L142.68 63.75 L139.02 63.75ZM137.20 68.50 L139.02 65.35 L142.68 65.35 L144.50 68.50 L142.68 71.65 L139.02 71.65ZM137.20 76.40 L139.02 73.25 L142.68 73.25 L144.50 76.40 L142.68 79.55 L139.02 79.55ZM137.20 84.30 L139.02 81.15 L142.68 81.15 L144.50 84.30 L142.68 87.45 L139.02 87.45ZM137.20 92.20 L139.02 89.05 L142.68 89.05 L144.50 92.20 L142.68 95.35 L139.02 95.35ZM137.20 100.10 L139.02 96.95 L142.68 96.95 L144.50 100.10 L142.68 103.25 L139.02 103.25ZM137.20 108.00 L139.02 104.85 L142.68 104.85 L144.50 108.00 L142.68 111.15 L139.02 111.15ZM137.20 115.90 L139.02 112.75 L142.68 112.75 L144.50 115.90 L142.68 119.05 L139.02 119.05ZM137.20 123.80 L139.02 120.65 L142.68 120.65 L144.50 123.80 L142.68 126.95 L139.02 126.95ZM144.15 40.80 L145.97 37.65 L149.62 37.65 L151.45 40.80 L149.62 43.95 L145.97 43.95ZM144.15 48.70 L145.97 45.55 L149.62 45.55 L151.45 48.70 L149.62 51.85 L145.97 51.85ZM144.15 56.60 L145.97 53.45 L149.62 53.45 L151.45 56.60 L149.62 59.75 L145.97 59.75ZM144.15 64.50 L145.97 61.35 L149.62 61.35 L151.45 64.50 L149.62 67.65 L145.97 67.65ZM144.15 72.40 L145.97 69.25 L149.62 69.25 L151.45 72.40 L149.62 75.55 L145.97 75.55ZM144.15 80.30 L145.97 77.15 L149.62 77.15 L151.45 80.30 L149.62 83.45 L145.97 83.45ZM144.15 88.20 L145.97 85.05 L149.62 85.05 L151.45 88.20 L149.62 91.35 L145.97 91.35ZM144.15 96.10 L145.97 92.95 L149.62 92.95 L151.45 96.10 L149.62 99.25 L145.97 99.25ZM144.15 104.00 L145.97 100.85 L149.62 100.85 L151.45 104.00 L149.62 107.15 L145.97 107.15ZM151.10 44.80 L152.92 41.65 L156.58 41.65 L158.40 44.80 L156.58 47.95 L152.92 47.95ZM151.10 52.70 L152.92 49.55 L156.58 49.55 L158.40 52.70 L156.58 55.85 L152.92 55.85ZM151.10 60.60 L152.92 57.45 L156.58 57.45 L158.40 60.60 L156.58 63.75 L152.92 63.75ZM151.10 68.50 L152.92 65.35 L156.58 65.35 L158.40 68.50 L156.58 71.65 L152.92 71.65ZM151.10 76.40 L152.92 73.25 L156.58 73.25 L158.40 76.40 L156.58 79.55 L152.92 79.55ZM151.10 84.30 L152.92 81.15 L156.58 81.15 L158.40 84.30 L156.58 87.45 L152.92 87.45ZM151.10 92.20 L152.92 89.05 L156.58 89.05 L158.40 92.20 L156.58 95.35 L152.92 95.35ZM151.10 100.10 L152.92 96.95 L156.58 96.95 L158.40 100.10 L156.58 103.25 L152.92 103.25ZM151.10 108.00 L152.92 104.85 L156.58 104.85 L158.40 108.00 L156.58 111.15 L152.92 111.15ZM158.05 40.80 L159.88 37.65 L163.53 37.65 L165.35 40.80 L163.53 43.95 L159.88 43.95ZM158.05 48.70 L159.88 45.55 L163.53 45.55 L165.35 48.70 L163.53 51.85 L159.88 51.85ZM158.05 56.60 L159.88 53.45 L163.53 53.45 L165.35 56.60 L163.53 59.75 L159.88 59.75ZM158.05 64.50 L159.88 61.35 L163.53 61.35 L165.35 64.50 L163.53 67.65 L159.88 67.65ZM158.05 72.40 L159.88 69.25 L163.53 69.25 L165.35 72.40 L163.53 75.55 L159.88 75.55ZM158.05 80.30 L159.88 77.15 L163.53 77.15 L165.35 80.30 L163.53 83.45 L159.88 83.45ZM158.05 88.20 L159.88 85.05 L163.53 85.05 L165.35 88.20 L163.53 91.35 L159.88 91.35ZM158.05 96.10 L159.88 92.95 L163.53 92.95 L165.35 96.10 L163.53 99.25 L159.88 99.25ZM158.05 104.00 L159.88 100.85 L163.53 100.85 L165.35 104.00 L163.53 107.15 L159.88 107.15Z"/></svg>
<div style="left:446px;top:673.7px;width:65.6px;height:51px;background:#1e1e1e;border-radius:2px;box-shadow:0 0 0 1px #888"></div>
<svg style="left:452px;top:680px" width="54" height="37"><path d="M0 0 H54 V27 L46 37 H8 L0 27Z" fill="#0e0e0e"/><rect x="10" y="13" width="2.2" height="6" fill="#999"/><rect x="41" y="13" width="2.2" height="6" fill="#999"/><rect x="25.5" y="21" width="2.4" height="7" fill="#aaa"/></svg>
<div style="left:578px;top:748px;width:1.2px;height:18px;background:#666"></div>
<div style="left:444px;top:746px;width:158px;height:2.3px;background:linear-gradient(#dcdcdc,#c8c8c8)"></div>
<div class="scr" style="left:452.8px;top:63.2px;width:10.4px;height:10.4px;"></div>
<div class="scr" style="left:537.5999999999999px;top:63.2px;width:10.4px;height:10.4px;"></div>
<div class="scr" style="left:608.0999999999999px;top:117.8px;width:10.4px;height:10.4px;"></div>
<div class="scr" style="left:431.8px;top:404.3px;width:10.4px;height:10.4px;"></div>
<div class="scr" style="left:431.8px;top:586.8px;width:10.4px;height:10.4px;"></div>
<div class="scr" style="left:453.3px;top:752.3px;width:10.4px;height:10.4px;"></div>
<div class="scr" style="left:537.4px;top:752.3px;width:10.4px;height:10.4px;"></div>
<svg style="left:426px;top:61px" width="20" height="20"><path d="M10 9 L16 15.5" stroke="#cfcfcf" stroke-width="1.5"/><ellipse cx="9" cy="8" rx="4.2" ry="3.2" transform="rotate(-35 9 8)" fill="#d4d4d4"/></svg>
<svg style="left:426px;top:744px" width="20" height="20"><path d="M10 11 L17 4" stroke="#cfcfcf" stroke-width="1.5"/><ellipse cx="9" cy="12.5" rx="4.4" ry="3.4" transform="rotate(35 9 12.5)" fill="#d4d4d4"/></svg>
<svg style="left:600px;top:740px" width="24" height="24"><path d="M2 3 L15 15" stroke="#cfcfcf" stroke-width="1.3"/><circle cx="15.5" cy="15.5" r="1.8" fill="#d4d4d4"/></svg>
<div style="left:760.5px;top:58.8px;width:198.5px;height:707.2px;border-radius:10px;box-shadow:0 0 0 1px rgba(255,255,255,.85)"></div>
<div style="left:760.5px;top:58.8px;width:198.5px;height:707.2px;border-radius:10px;overflow:hidden;background:#262626">
<div style="left:0;top:0;width:111px;height:708px;background:linear-gradient(#6a6a6a,#676767 6%,#5e5e5e 25%,#4e4e4e 57%,#3c3c3c 86%,#363636)"></div>
<svg style="left:0;top:0" width="111" height="708"><defs><clipPath id="sc"><rect x="0" y="3.20" width="111" height="701.50"/></clipPath></defs><g clip-path="url(#sc)" fill="#070707"><polygon points="3.80,6.40 109.30,-99.10 109.30,-93.40 3.80,12.10"/><polygon points="3.80,22.85 109.30,-82.65 109.30,-76.95 3.80,28.55"/><polygon points="3.80,39.30 109.30,-66.20 109.30,-60.50 3.80,45.00"/><polygon points="3.80,55.75 109.30,-49.75 109.30,-44.05 3.80,61.45"/><polygon points="3.80,72.20 109.30,-33.30 109.30,-27.60 3.80,77.90"/><polygon points="3.80,88.65 109.30,-16.85 109.30,-11.15 3.80,94.35"/><polygon points="3.80,105.10 109.30,-0.40 109.30,5.30 3.80,110.80"/><polygon points="3.80,121.55 109.30,16.05 109.30,21.75 3.80,127.25"/><polygon points="3.80,138.00 109.30,32.50 109.30,38.20 3.80,143.70"/><polygon points="3.80,154.45 109.30,48.95 109.30,54.65 3.80,160.15"/><polygon points="3.80,170.90 109.30,65.40 109.30,71.10 3.80,176.60"/><polygon points="3.80,187.35 109.30,81.85 109.30,87.55 3.80,193.05"/><polygon points="3.80,203.72 109.30,98.30 109.30,104.00 3.80,209.58"/><polygon points="3.80,220.08 109.30,114.75 109.30,120.45 3.80,226.12"/><polygon points="3.80,236.44 109.30,131.20 109.30,136.90 3.80,242.66"/><polygon points="3.80,252.80 109.30,147.65 109.30,153.35 3.80,259.20"/><polygon points="3.80,269.16 109.30,164.10 109.30,169.80 3.80,275.74"/><polygon points="3.80,285.51 109.30,180.55 109.30,186.25 3.80,292.29"/><polygon points="3.80,301.87 109.30,196.95 109.30,202.75 3.80,308.83"/><polygon points="3.80,318.23 109.30,213.31 109.30,219.29 3.80,325.37"/><polygon points="3.80,334.59 109.30,229.67 109.30,235.83 3.80,341.91"/><polygon points="3.80,350.95 109.30,246.03 109.30,252.37 3.80,358.45"/><polygon points="3.80,367.31 109.30,262.39 109.30,268.91 3.80,374.99"/><polygon points="3.80,383.67 109.30,278.75 109.30,285.45 3.80,391.53"/><polygon points="3.80,400.05 109.30,295.11 109.30,301.99 3.80,408.05"/><polygon points="3.80,416.49 109.30,311.47 109.30,318.53 3.80,424.51"/><polygon points="3.80,432.93 109.30,327.83 109.30,335.07 3.80,440.97"/><polygon points="3.80,449.38 109.30,344.19 109.30,351.61 3.80,457.42"/><polygon points="3.80,465.82 109.30,360.55 109.30,368.15 3.80,473.88"/><polygon points="3.80,482.26 109.30,376.91 109.30,384.69 3.80,490.34"/><polygon points="3.80,498.70 109.30,393.27 109.30,401.23 3.80,506.80"/><polygon points="3.80,515.14 109.30,409.69 109.30,417.71 3.80,523.26"/><polygon points="3.80,531.59 109.30,426.14 109.30,434.16 3.80,539.71"/><polygon points="3.80,548.03 109.30,442.58 109.30,450.62 3.80,556.17"/><polygon points="3.80,564.47 109.30,459.02 109.30,467.08 3.80,572.63"/><polygon points="3.80,580.91 109.30,475.46 109.30,483.54 3.80,589.09"/><polygon points="3.80,597.35 109.30,491.90 109.30,500.00 3.80,605.55"/><polygon points="3.80,613.80 109.30,508.35 109.30,516.45 3.80,622.00"/><polygon points="3.80,630.25 109.30,524.79 109.30,532.91 3.80,638.45"/><polygon points="3.80,646.70 109.30,541.23 109.30,549.37 3.80,654.90"/><polygon points="3.80,663.15 109.30,557.67 109.30,565.83 3.80,671.35"/><polygon points="3.80,679.60 109.30,574.12 109.30,582.28 3.80,687.80"/><polygon points="3.80,696.05 109.30,590.56 109.30,598.74 3.80,704.25"/><polygon points="3.80,712.50 109.30,607.00 109.30,615.20 3.80,720.70"/><polygon points="3.80,728.95 109.30,623.45 109.30,631.65 3.80,737.15"/><polygon points="3.80,745.40 109.30,639.90 109.30,648.10 3.80,753.60"/><polygon points="3.80,761.85 109.30,656.35 109.30,664.55 3.80,770.05"/><polygon points="3.80,778.30 109.30,672.80 109.30,681.00 3.80,786.50"/><polygon points="3.80,794.75 109.30,689.25 109.30,697.45 3.80,802.95"/></g></svg>
<div style="left:110.5px;top:0;width:89px;height:473.2px;background:linear-gradient(#666,#606060 30%,#585858 60%,#515151 85%,#4e4e4e)"></div>
<div style="left:110.5px;top:0;width:89px;height:473.2px;background:repeating-linear-gradient(-44deg,rgba(255,255,255,.06) 0 1px,rgba(0,0,0,.07) 1px 2.2px,rgba(255,255,255,0) 2.2px 3.7px,rgba(0,0,0,.05) 3.7px 5.1px)"></div>
<div style="left:110.5px;top:0;width:1px;height:708px;background:rgba(255,255,255,.08)"></div>
<div style="left:110.5px;top:472.2px;width:89px;height:1.5px;background:#333"></div>
<div style="left:110.5px;top:473.7px;width:89px;height:235px;background-color:#242424;background-image:radial-gradient(circle,#383838 0 0.9px,transparent 1.5px),radial-gradient(circle,#1a1a1a 0 0.9px,transparent 1.5px);background-size:3.2px 3.2px,3.2px 3.2px;background-position:0 0,1.6px 1.6px"></div>
</div>
<div style="left:774.3px;top:105px;width:26.6px;height:275px;border:1.3px solid #1c1c1c;border-radius:4px 4px 2px 2px"></div>
<div style="left:901.6px;top:109.4px;width:31.1px;height:30.8px;border:1.4px solid #2a2a2a;border-radius:2.5px;background:#575757;box-shadow:inset 0 0 0 0.8px #6a6a6a"></div>
<svg style="left:911px;top:119px" width="12" height="12"><path d="M3.3 3.4 A4.1 4.1 0 1 0 8.7 3.4" fill="none" stroke="#d0d0d0" stroke-width="1.1"/><path d="M6 1.6 V6" stroke="#d0d0d0" stroke-width="1.1"/></svg>
<div style="left:915.6px;top:155.2px;width:2.8px;height:5px;background:#e0e0e0;border-radius:0.8px"></div>
<div style="left:915.6px;top:164px;width:2.8px;height:4px;border:0.8px solid #9a9a9a;border-radius:0.8px"></div>
<div style="left:900.8px;top:214.2px;width:47.8px;height:199px;background:#555;border:1px solid #3c3c3c;border-radius:1.5px;box-shadow:inset 1px 1px 0 #666"></div>
<div style="left:924.3000000000001px;top:215.7px;width:18.8px;height:18.8px;border-radius:50%;background:radial-gradient(circle closest-side,#111 0 1.6px,#2e2e2e 3px,#121212 4.2px,#0a0a0a 7.4px,#262626 8.4px,#777 9.4px)"></div>
<div style="left:924.3000000000001px;top:241.5px;width:18.8px;height:18.8px;border-radius:50%;background:radial-gradient(circle closest-side,#111 0 1.6px,#2e2e2e 3px,#121212 4.2px,#0a0a0a 7.4px,#262626 8.4px,#777 9.4px)"></div>
<svg style="left:938px;top:229px" width="10" height="32" stroke="#bbb" fill="none" stroke-width="0.9"><path d="M2 9 V6 A3 3 0 0 1 8 6 V9"/><path d="M3.5 27 V24 A1.6 1.6 0 0 1 6.5 24 V27 M2 25 A3 3 0 0 0 8 25 M5 28 V30"/></svg>
<div style="left:906px;top:270.7px;width:32.5px;height:30.3px;background:#262626;border-radius:2px;border:1px solid #555"></div>
<div style="left:907.6px;top:272.4px;width:12.8px;height:26.8px;background:#0b0b0b;border:1px solid #4a4a4a;border-radius:1px"></div>
<div style="left:910.0px;top:275.3px;width:5.2px;height:21px;background:#2a2a2a"></div>
<div style="left:916.2px;top:278.7px;width:1.4px;height:3px;background:#666"></div>
<div style="left:916.2px;top:287.7px;width:1.4px;height:3px;background:#666"></div>
<div style="left:924.9px;top:272.4px;width:12.8px;height:26.8px;background:#0b0b0b;border:1px solid #4a4a4a;border-radius:1px"></div>
<div style="left:927.3px;top:275.3px;width:5.2px;height:21px;background:#2a2a2a"></div>
<div style="left:933.5px;top:278.7px;width:1.4px;height:3px;background:#666"></div>
<div style="left:933.5px;top:287.7px;width:1.4px;height:3px;background:#666"></div>
<div style="left:906px;top:310.5px;width:32.5px;height:30.3px;background:#262626;border-radius:2px;border:1px solid #555"></div>
<div style="left:907.6px;top:312.2px;width:12.8px;height:26.8px;background:#0b0b0b;border:1px solid #4a4a4a;border-radius:1px"></div>
<div style="left:910.0px;top:315.1px;width:5.2px;height:21px;background:#2c66c0;border-radius:0.5px"></div>
<div style="left:916.2px;top:318.5px;width:1.4px;height:3px;background:#666"></div>
<div style="left:916.2px;top:327.5px;width:1.4px;height:3px;background:#666"></div>
<div style="left:924.9px;top:312.2px;width:12.8px;height:26.8px;background:#0b0b0b;border:1px solid #4a4a4a;border-radius:1px"></div>
<div style="left:927.3px;top:315.1px;width:5.2px;height:21px;background:#2c66c0;border-radius:0.5px"></div>
<div style="left:933.5px;top:318.5px;width:1.4px;height:3px;background:#666"></div>
<div style="left:933.5px;top:327.5px;width:1.4px;height:3px;background:#666"></div>
<div style="left:906px;top:347.9px;width:32.5px;height:30.3px;background:#262626;border-radius:2px;border:1px solid #555"></div>
<div style="left:907.6px;top:349.59999999999997px;width:12.8px;height:26.8px;background:#0b0b0b;border:1px solid #4a4a4a;border-radius:1px"></div>
<div style="left:910.0px;top:352.5px;width:5.2px;height:21px;background:#27a897;border-radius:0.5px"></div>
<div style="left:916.2px;top:355.9px;width:1.4px;height:3px;background:#666"></div>
<div style="left:916.2px;top:364.9px;width:1.4px;height:3px;background:#666"></div>
<div style="left:924.9px;top:349.59999999999997px;width:12.8px;height:26.8px;background:#0b0b0b;border:1px solid #4a4a4a;border-radius:1px"></div>
<div style="left:927.3px;top:352.5px;width:5.2px;height:21px;background:#27a897;border-radius:0.5px"></div>
<div style="left:933.5px;top:355.9px;width:1.4px;height:3px;background:#666"></div>
<div style="left:933.5px;top:364.9px;width:1.4px;height:3px;background:#666"></div>
<div style="left:942.5px;top:282px;width:2px;height:12px;background:#8a8a8a;opacity:.6"></div>
<div style="left:942.5px;top:319px;width:2px;height:12px;background:#8a8a8a;opacity:.6"></div>
<div style="left:942.5px;top:357px;width:2px;height:12px;background:#8a8a8a;opacity:.6"></div>
<div style="left:942.5px;top:391px;width:2px;height:12px;background:#8a8a8a;opacity:.6"></div>
<div style="left:928px;top:386px;width:12.5px;height:24px;background:#0b0b0b;border:1.7px solid #a5a5a5;border-radius:6.5px"></div>
<div style="left:932.7px;top:390.5px;width:3px;height:15px;background:#5a5a5a;border-radius:1px"></div>
<div style="left:921.8px;top:590px;width:5.4px;height:114.3px;background:#040404;border-radius:1px"></div>
<div style="left:932.6px;top:622.3px;width:6px;height:52px;background:#040404;border-radius:1px"></div>
<div style="left:931.5px;top:618px;width:8px;height:60px;border:1px solid #333;border-radius:1px"></div>
<svg style="left:932px;top:589px" width="10" height="96" stroke="#c8c8c8" fill="none" stroke-width="0.8"><path d="M1 1 H4.5 L6 2.5 V8 H1Z"/><path d="M1 87 H4.5 L6 88.5 V94 H1Z"/></svg>
<div style="left:841.2px;top:474.5px;width:89px;height:11px;font-size:10px;line-height:11px;color:#d4d4d4;transform:rotate(-90deg);white-space:nowrap">ASUS ExpertCenter</div>
<svg style="left:0;top:0" width="1382" height="840"><defs><linearGradient id="lg" x1="0" y1="0" x2="0" y2="1"><stop offset="0" stop-color="#f0f0f0"/><stop offset=".5" stop-color="#b8b8b8"/><stop offset="1" stop-color="#e8e8e8"/></linearGradient></defs><g transform="translate(881,744.3)" fill="url(#lg)"><path d="M0 14.3 L11.5 0 H16.5 L5 14.3Z"/><path d="M4.5 14.3 L14.8 2.2 H15.8 L6.5 14.3Z"/><path d="M13 0 H33 V2.3 H16Z"/><path d="M16.5 3.5 H19.5 V7.2 H33 V14.3 H16.5 V12 H30 V9.6 H16.5Z"/><path d="M35.5 0 H38.5 V12 H47 V0 H50 V14.3 H35.5Z"/><path d="M52.5 0 H69 V2.3 H55.5 V6 H69 V14.3 H52 V12 H66 V8.4 H52.5Z"/></g><g transform="translate(881,773.5) translate(0,14.3) scale(1,-1)" fill="#e9e9e9"><path d="M0 14.3 L11.5 0 H16.5 L5 14.3Z"/><path d="M4.5 14.3 L14.8 2.2 H15.8 L6.5 14.3Z"/><path d="M13 0 H33 V2.3 H16Z"/><path d="M16.5 3.5 H19.5 V7.2 H33 V14.3 H16.5 V12 H30 V9.6 H16.5Z"/><path d="M35.5 0 H38.5 V12 H47 V0 H50 V14.3 H35.5Z"/><path d="M52.5 0 H69 V2.3 H55.5 V6 H69 V14.3 H52 V12 H66 V8.4 H52.5Z"/></g></svg>
<div class="lbl" style="right:1044.5px;top:70.9px;transform-origin:100% 50%;transform:scaleX(1.0057)">PS/2 Mouse port</div>
<div class="lbl" style="right:1044.5px;top:98.9px;transform-origin:100% 50%;transform:scaleX(1.0168)">PS/2 Keyboard port</div>
<div class="lbl" style="right:1044.5px;top:149.1px;transform-origin:100% 50%;transform:scaleX(1.0281)">DisplayPort</div>
<div class="lbl" style="right:1044.5px;top:177.9px;transform-origin:100% 50%;transform:scaleX(1.0319)">Serial port (optional)</div>
<div class="lbl" style="right:1044.5px;top:206.9px;transform-origin:100% 50%;transform:scaleX(1.0372)">HDMI port</div>
<div class="lbl" style="right:1044.5px;top:237.9px;transform-origin:100% 50%;transform:scaleX(1.0209)">VGA port</div>
<div class="lbl" style="right:1044.5px;top:281.7px;transform-origin:100% 50%;transform:scaleX(0.9672)">USB 2.0 port x 4</div>
<div class="lbl" style="right:1044.5px;top:327.5px;transform-origin:100% 50%;transform:scaleX(0.9715)">LAN (RJ-45) port</div>
<div class="lbl" style="right:1044.5px;top:378.9px;transform-origin:100% 50%;transform:scaleX(1.0706)">Microphone port</div>
<div class="lbl" style="right:1044.5px;top:407.1px;transform-origin:100% 50%;transform:scaleX(1.0586)">Line out port</div>
<div class="lbl" style="right:1044.5px;top:435.4px;transform-origin:100% 50%;transform:scaleX(1.0416)">Line in port</div>
<div class="lbl" style="right:1044.5px;top:478.1px;transform-origin:100% 50%;transform:scaleX(1.0280)">Parallel port (optional)</div>
<div class="lbl" style="left:1033.7px;top:148.9px;transform-origin:0 50%;transform:scaleX(0.9703)">HDD indicator</div>
<div class="lbl" style="left:1033.7px;top:180.3px;transform-origin:0 50%;transform:scaleX(0.9491)">Optical disk driver bay</div>
<div class="lbl" style="left:1033.7px;top:215.5px;transform-origin:0 50%;transform:scaleX(1.0515)">Headphone port</div>
<div class="lbl" style="left:1033.7px;top:242.1px;transform-origin:0 50%;transform:scaleX(1.0373)">Audio combo jack</div>
<div class="lbl" style="left:1033.7px;top:277.9px;transform-origin:0 50%;transform:scaleX(0.9602)">USB 2.0 port x 2</div>
<div class="lbl" style="left:1033.7px;top:315.2px;transform-origin:0 50%;transform:scaleX(0.9633)">USB 3.2 Gen 1 port x 2</div>
<div class="lbl" style="left:1033.7px;top:353.2px;transform-origin:0 50%;transform:scaleX(0.9633)">USB 3.2 Gen 2 port x 2</div>
<div class="lbl" style="left:1033.7px;top:387.5px;transform-origin:0 50%;transform:scaleX(0.9190)">USB-C™ port</div>
<div class="lbl" style="left:1033.7px;top:638.4px;transform-origin:0 50%;transform:scaleX(0.9974)">Smart card reader  &amp;</div>
<div class="lbl" style="left:1033.7px;top:661.9px;transform-origin:0 50%;transform:scaleX(1.0159)">SD card reader (optional)</div>
<div class="hl" style="left:348.0px;top:80px;width:143.0px"></div>
<div class="vl" style="left:491px;top:79.2px;height:14.4px"></div>
<div class="dot" style="left:488.6px;top:91.2px"></div>
<div class="hl" style="left:348.0px;top:108px;width:91.0px"></div>
<div class="dot" style="left:436.6px;top:105.6px"></div>
<div class="hl" style="left:348.0px;top:158px;width:91.5px"></div>
<div class="dot" style="left:437.1px;top:155.8px"></div>
<div class="hl" style="left:348.0px;top:187px;width:212.0px"></div>
<div class="vl" style="left:560px;top:186.2px;height:50.3px"></div>
<div class="dot" style="left:557.6px;top:234.1px"></div>
<div class="hl" style="left:348.0px;top:216px;width:91.5px"></div>
<div class="dot" style="left:437.1px;top:213.6px"></div>
<div class="hl" style="left:348.0px;top:247px;width:150.5px"></div>
<div class="vl" style="left:498px;top:237.5px;height:10.3px"></div>
<div class="dot" style="left:496.1px;top:235.1px"></div>
<div class="hl" style="left:348.0px;top:290px;width:29.5px"></div>
<div class="vl" style="left:377px;top:269.1px;height:43.4px"></div>
<div class="hl" style="left:377.5px;top:269px;width:61.5px"></div>
<div class="hl" style="left:377.5px;top:312px;width:61.5px"></div>
<div class="dot" style="left:436.6px;top:266.7px"></div>
<div class="dot" style="left:436.6px;top:310.1px"></div>
<div class="hl" style="left:348.0px;top:336px;width:146.5px"></div>
<div class="vl" style="left:494px;top:328.0px;height:9.4px"></div>
<div class="dot" style="left:492.1px;top:325.6px"></div>
<div class="hl" style="left:348.0px;top:388px;width:111.0px"></div>
<div class="vl" style="left:459px;top:362.0px;height:26.8px"></div>
<div class="dot" style="left:456.6px;top:359.6px"></div>
<div class="hl" style="left:348.0px;top:416px;width:134.5px"></div>
<div class="vl" style="left:482px;top:362.0px;height:55.0px"></div>
<div class="dot" style="left:480.1px;top:359.6px"></div>
<div class="hl" style="left:348.0px;top:444px;width:157.5px"></div>
<div class="vl" style="left:505px;top:362.0px;height:83.3px"></div>
<div class="dot" style="left:503.1px;top:359.6px"></div>
<div class="hl" style="left:348.0px;top:487px;width:184.0px"></div>
<div class="vl" style="left:532px;top:385.5px;height:102.5px"></div>
<div class="dot" style="left:529.6px;top:383.1px"></div>
<div class="hl" style="left:926.0px;top:158px;width:99.0px"></div>
<div class="dot" style="left:923.9px;top:155.6px"></div>
<div class="hl" style="left:789.0px;top:191px;width:236.0px"></div>
<div class="dot" style="left:786.6px;top:189.1px"></div>
<div class="hl" style="left:949.0px;top:225px;width:76.0px"></div>
<div class="dot" style="left:946.6px;top:222.7px"></div>
<div class="hl" style="left:949.0px;top:250px;width:76.0px"></div>
<div class="dot" style="left:946.6px;top:248.3px"></div>
<div class="hl" style="left:949.0px;top:287px;width:76.0px"></div>
<div class="dot" style="left:946.6px;top:285.1px"></div>
<div class="hl" style="left:949.0px;top:325px;width:76.0px"></div>
<div class="dot" style="left:946.6px;top:323.0px"></div>
<div class="hl" style="left:949.0px;top:363px;width:76.0px"></div>
<div class="dot" style="left:946.6px;top:361.0px"></div>
<div class="hl" style="left:949.0px;top:397px;width:76.0px"></div>
<div class="dot" style="left:946.6px;top:395.3px"></div>
<div class="hl" style="left:934.2px;top:604px;width:51.9px"></div>
<div class="dot" style="left:931.8px;top:602.4px"></div>
<div class="hl" style="left:948.9px;top:647px;width:76.4px"></div>
<div class="dot" style="left:946.5px;top:645.2px"></div>
<div class="vl" style="left:986px;top:604.0px;height:44.4px"></div>
</body></html>
